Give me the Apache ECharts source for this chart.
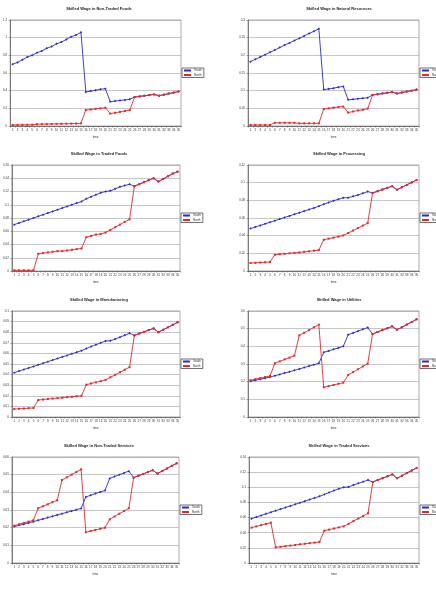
<!DOCTYPE html>
<html>
<head>
<meta charset="utf-8">
<script src="https://cdn.jsdelivr.net/npm/echarts@6/dist/echarts.min.js"></script>
<style>
html, body { margin: 0; padding: 0; background: #fff; }
#chart { width: 436px; height: 597px; }
</style>
</head>
<body>
<div id="chart"></div>
<script>
// time periods on every x axis
const times = ['1','2','3','4','5','6','7','8','9','10','11','12','13','14','15','16','17','18',
  '19','20','21','22','23','24','25','26','27','28','29','30','31','32','33','34','35'];

// Skilled Wage in Non-Traded Foods
const ntfSouth = [0.70,0.72,0.75,0.78,0.80,0.83,0.85,0.88,0.90,0.93,0.95,0.98,1.01,1.03,1.06,
  0.385,0.395,0.405,0.415,0.423,0.275,0.282,0.289,0.295,0.302,
  0.328,0.335,0.342,0.350,0.358,0.343,0.355,0.367,0.378,0.390];
const ntfNorth = [0.012,0.012,0.013,0.013,0.014,0.020,0.021,0.022,0.023,0.024,0.025,0.026,0.027,0.028,0.030,
  0.180,0.187,0.194,0.200,0.207,0.140,0.150,0.160,0.170,0.180,
  0.328,0.335,0.342,0.350,0.358,0.343,0.355,0.367,0.378,0.390];
const ntfTicks = [0, 0.2, 0.4, 0.6, 0.8, 1, 1.2];

// Skilled Wage in Natural Resources
const natSouth = [0.182,0.189,0.195,0.202,0.209,0.215,0.222,0.229,0.235,0.242,0.248,0.255,0.262,0.268,0.275,
  0.103,0.105,0.107,0.110,0.112,0.074,0.0755,0.077,0.0785,0.080,
  0.088,0.090,0.092,0.094,0.096,0.092,0.0948,0.0975,0.100,0.103];
const natNorth = [0.003,0.003,0.003,0.003,0.003,0.009,0.009,0.009,0.009,0.009,0.0075,0.0075,0.0075,0.0075,0.0075,
  0.048,0.050,0.052,0.054,0.055,0.038,0.041,0.044,0.046,0.049,
  0.088,0.090,0.092,0.094,0.096,0.092,0.0948,0.0975,0.100,0.103];
const natTicks = [0, 0.05, 0.1, 0.15, 0.2, 0.25, 0.3];

// Skilled Wage in Traded Foods
const tfSouth = [0.070,0.0725,0.075,0.0775,0.080,0.0825,0.085,0.0875,0.090,0.0925,0.095,0.0975,0.100,0.1025,0.105,
  0.109,0.112,0.115,0.118,0.120,0.121,0.124,0.127,0.129,0.131,
  0.128,0.131,0.134,0.137,0.140,0.135,0.139,0.143,0.147,0.150];
const tfNorth = [0.001,0.001,0.001,0.001,0.001,0.026,0.027,0.028,0.029,0.030,0.030,0.031,0.032,0.033,0.034,
  0.051,0.053,0.055,0.056,0.058,0.062,0.066,0.070,0.074,0.078,
  0.128,0.131,0.134,0.137,0.140,0.135,0.139,0.143,0.147,0.150];
const tfTicks = [0, 0.02, 0.04, 0.06, 0.08, 0.1, 0.12, 0.14, 0.16];

// Skilled Wage in Processing
const prSouth = [0.048,0.0498,0.0516,0.0534,0.0552,0.057,0.0588,0.0606,0.0624,0.0642,0.066,0.0678,0.0696,0.0714,0.0734,
  0.0755,0.0775,0.0795,0.0812,0.0828,0.0830,0.0845,0.086,0.088,0.0899,
  0.0884,0.0903,0.0922,0.0941,0.096,0.092,0.0948,0.0975,0.1003,0.103];
const prNorth = [0.009,0.0093,0.0096,0.0099,0.0102,0.0184,0.019,0.0195,0.020,0.0206,0.021,0.0217,0.0223,0.023,0.0237,
  0.0354,0.0366,0.0378,0.039,0.0402,0.043,0.0458,0.0486,0.0514,0.0542,
  0.0884,0.0903,0.0922,0.0941,0.096,0.092,0.0948,0.0975,0.1003,0.103];
const prTicks = [0, 0.02, 0.04, 0.06, 0.08, 0.1, 0.12];

// Skilled Wage in Manufacturing
const mfSouth = [0.0418,0.0433,0.0448,0.0463,0.0477,0.0492,0.0507,0.0522,0.0537,0.0552,0.0567,0.0581,0.0596,0.0611,0.0626,
  0.0646,0.0664,0.0682,0.070,0.0717,0.0719,0.0735,0.0753,0.0771,0.079,
  0.077,0.0787,0.0803,0.082,0.0836,0.080,0.0823,0.0846,0.087,0.0893];
const mfNorth = [0.0075,0.0078,0.008,0.0083,0.0085,0.016,0.0165,0.017,0.0174,0.0178,0.0182,0.0187,0.0191,0.0196,0.020,
  0.0305,0.0316,0.0327,0.0338,0.035,0.0374,0.0398,0.0422,0.0446,0.047,
  0.077,0.0787,0.0803,0.082,0.0836,0.080,0.0823,0.0846,0.087,0.0893];
const mfTicks = [0, 0.01, 0.02, 0.03, 0.04, 0.05, 0.06, 0.07, 0.08, 0.09, 0.1];

// Skilled Wage in Utilities
const utSouth = [0.202,0.208,0.214,0.220,0.226,0.234,0.241,0.249,0.256,0.264,0.272,0.280,0.288,0.296,0.304,
  0.366,0.374,0.383,0.391,0.400,0.466,0.476,0.486,0.496,0.506,
  0.470,0.481,0.492,0.502,0.513,0.494,0.508,0.523,0.538,0.553];
const utNorth = [0.208,0.214,0.220,0.226,0.232,0.304,0.315,0.326,0.336,0.347,0.462,0.477,0.492,0.508,0.523,
  0.168,0.175,0.181,0.188,0.194,0.238,0.254,0.270,0.286,0.302,
  0.470,0.481,0.492,0.502,0.513,0.494,0.508,0.523,0.538,0.553];
const utTicks = [0, 0.1, 0.2, 0.3, 0.4, 0.5, 0.6];

// Skilled Wage in Non-Traded Services
const ntsSouth = [0.0206,0.0213,0.022,0.0227,0.0234,0.0242,0.0249,0.0257,0.0264,0.0272,0.0279,0.0287,0.0294,0.0302,0.0309,
  0.0374,0.0383,0.0393,0.0402,0.0411,0.0479,0.0489,0.050,0.051,0.052,
  0.0483,0.0494,0.0504,0.0515,0.0525,0.0506,0.0521,0.0535,0.055,0.0564];
const ntsNorth = [0.0211,0.0219,0.0227,0.0234,0.0242,0.031,0.0321,0.0332,0.0344,0.0355,0.047,0.0485,0.050,0.0515,0.053,
  0.0174,0.0181,0.0187,0.0194,0.020,0.0247,0.0263,0.0279,0.0294,0.031,
  0.0483,0.0494,0.0504,0.0515,0.0525,0.0506,0.0521,0.0535,0.055,0.0564];
const ntsTicks = [0, 0.01, 0.02, 0.03, 0.04, 0.05, 0.06];

// Skilled Wage in Traded Services
const tsSouth = [0.0586,0.0607,0.0628,0.0649,0.067,0.0691,0.0712,0.0733,0.0754,0.0775,0.0796,0.0817,0.0838,0.0859,0.088,
  0.0906,0.0931,0.0956,0.098,0.100,0.1005,0.103,0.1052,0.1074,0.1096,
  0.107,0.1095,0.112,0.1145,0.117,0.112,0.1154,0.1188,0.1221,0.1255];
const tsNorth = [0.0467,0.0483,0.050,0.0516,0.0533,0.0207,0.0215,0.0223,0.023,0.0238,0.0246,0.0254,0.0262,0.0269,0.0277,
  0.0427,0.0441,0.0456,0.047,0.0484,0.0518,0.0553,0.0587,0.0622,0.0656,
  0.107,0.1095,0.112,0.1145,0.117,0.112,0.1154,0.1188,0.1221,0.1255];
const tsTicks = [0, 0.02, 0.04, 0.06, 0.08, 0.1, 0.12, 0.14];

// panels: data + where each little chart sits on the page
const panels = [
  { name: 'Skilled Wage in Non-Traded Foods', s: ntfSouth, n: ntfNorth, t: ntfTicks, x0: 8, x1: 181, top: 20, tx: 99 },
  { name: 'Skilled Wage in Natural Resources', s: natSouth, n: natNorth, t: natTicks, x0: 248, x1: 419, top: 20, tx: 339 },
  { name: 'Skilled Wage in Traded Foods', s: tfSouth, n: tfNorth, t: tfTicks, x0: 11, x1: 180, top: 165, tx: 99 },
  { name: 'Skilled Wage in Processing', s: prSouth, n: prNorth, t: prTicks, x0: 248, x1: 419, top: 165, tx: 339 },
  { name: 'Skilled Wage in Manufacturing', s: mfSouth, n: mfNorth, t: mfTicks, x0: 11, x1: 180, top: 311, tx: 99 },
  { name: 'Skilled Wage in Utilities', s: utSouth, n: utNorth, t: utTicks, x0: 248, x1: 419, top: 311, tx: 339 },
  { name: 'Skilled Wage in Non-Traded Services', s: ntsSouth, n: ntsNorth, t: ntsTicks, x0: 11, x1: 179, top: 457, tx: 99 },
  { name: 'Skilled Wage in Traded Services', s: tsSouth, n: tsNorth, t: tsTicks, x0: 249, x1: 419, top: 457, tx: 339 }
];

const plotH = 106;
const blue = '#2b2bc8', red = '#e02a2a';

var option = {
  backgroundColor: '#fff',
  animation: false,
  title: [], legend: [], grid: [], xAxis: [], yAxis: [], series: []
};

panels.forEach(function (p, i) {
  option.title.push({
    text: p.name, left: p.tx, top: p.top - 13, textAlign: 'center', padding: 0,
    textStyle: { fontSize: 4, fontWeight: 'bold', fontFamily: 'Liberation Sans', color: '#222' }
  });
  option.grid.push({
    left: p.x0, width: p.x1 - p.x0, top: p.top, height: plotH,
    show: true, borderColor: '#8a8a8a', borderWidth: 0.7, backgroundColor: '#fff'
  });
  option.xAxis.push({
    type: 'category', gridIndex: i, data: times,
    name: 'time', nameLocation: 'middle', nameGap: 10,
    nameTextStyle: { fontSize: 3, fontFamily: 'Liberation Sans', color: '#333' },
    axisLine: { lineStyle: { color: '#555', width: 0.7 } },
    axisTick: { show: true, length: 1.5, lineStyle: { color: '#555', width: 0.5 } },
    axisLabel: { interval: 0, fontSize: 3, margin: 3, fontFamily: 'Liberation Sans', color: '#333' },
    splitLine: { show: false }
  });
  var t = p.t;
  option.yAxis.push({
    type: 'value', gridIndex: i,
    min: t[0], max: t[t.length - 1], interval: t[1] - t[0],
    axisLine: { show: true, lineStyle: { color: '#555', width: 0.7 } },
    axisTick: { show: true, length: 1.5, lineStyle: { color: '#555', width: 0.5 } },
    axisLabel: {
      fontSize: 3, margin: 3, fontFamily: 'Liberation Sans', color: '#333',
      formatter: function (v) { return String(Math.round(v * 1000) / 1000); }
    },
    splitLine: { show: true, lineStyle: { color: '#a0a0a0', width: 0.6 } }
  });
  option.series.push({
    name: 'South', type: 'line', xAxisIndex: i, yAxisIndex: i, data: p.s,
    symbol: 'diamond', symbolSize: 2.5, showSymbol: true,
    lineStyle: { color: blue, width: 0.9 }, itemStyle: { color: blue }, z: 2
  });
  option.series.push({
    name: 'North', type: 'line', xAxisIndex: i, yAxisIndex: i, data: p.n,
    symbol: 'rect', symbolSize: 2, showSymbol: true,
    lineStyle: { color: red, width: 0.9 }, itemStyle: { color: red }, z: 3
  });
  option.legend.push({
    data: ['South', 'North'], orient: 'vertical',
    left: p.x1 + 1, top: p.top + 48,
    itemWidth: 7, itemHeight: 2, itemGap: 1.5, padding: [1, 2, 1, 1],
    borderColor: '#333', borderWidth: 0.7, backgroundColor: '#fff',
    textStyle: { fontSize: 3, fontFamily: 'Liberation Sans', color: '#333', padding: [0, 0, 0, -2] },
    selectedMode: false
  });
});

var chart = echarts.init(document.getElementById('chart'), null, { renderer: 'canvas' });
chart.setOption(option);
</script>
</body>
</html>
